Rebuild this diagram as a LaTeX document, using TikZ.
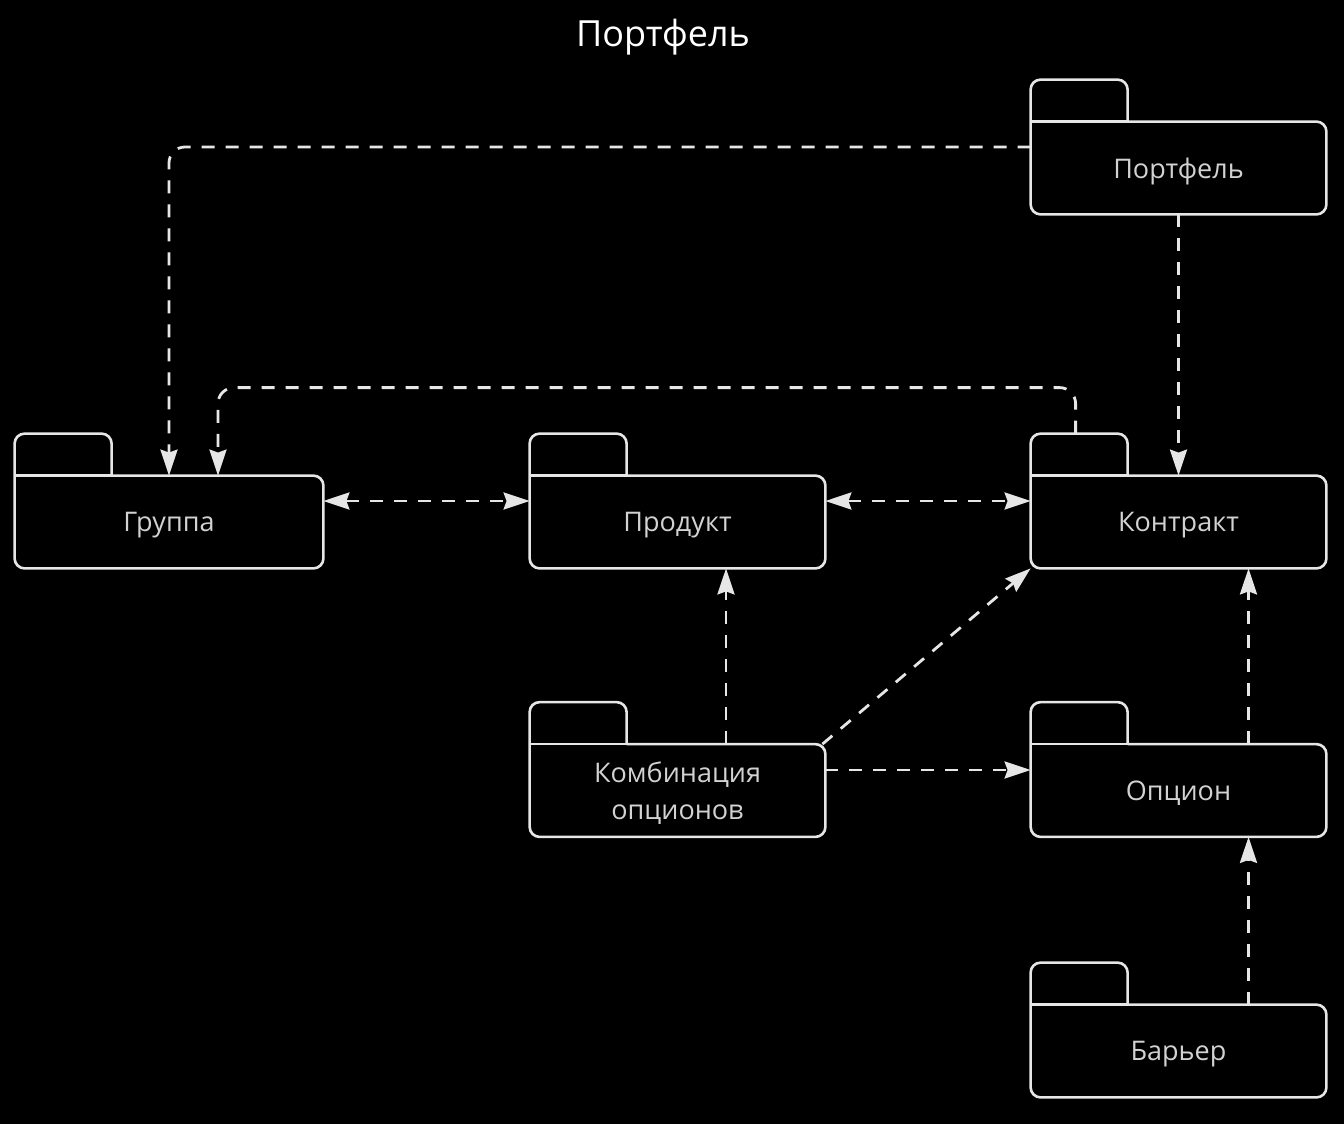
\documentclass[tikz,border=0pt]{standalone}
\usepackage{fontspec}
\setmainfont{Open Sans}
\usetikzlibrary{arrows.meta,calc}

\definecolor{pkgline}{HTML}{E6E6E6}
\definecolor{pkgtext}{HTML}{D2D2D2}

\begin{document}
\begin{tikzpicture}[x=0.5pt, y=-0.5pt,
	pkg/.style={minimum width=147.5pt, minimum height=46pt, inner sep=0pt,
		align=center, text=pkgtext, text depth=0pt, font=\fontsize{13.5}{18.5}\selectfont},
	outline/.style={draw=pkgline, line width=1.3pt, rounded corners=5pt},
	dep/.style={draw=pkgline, line width=1.4pt, dash pattern=on 6.5pt off 5.5pt,
		-{Stealth[length=13pt, width=8.5pt, inset=1.5pt]}},
	both/.style={dep, {Stealth[length=13pt, width=8.5pt, inset=1.5pt]}-{Stealth[length=13pt, width=8.5pt, inset=1.5pt]}}]
\def \tabw {97}  % tab width in px
\def \tabh {42}  % tab height in px

\fill[black] (0,0) rectangle (1344,1124);
\node[text=white, font=\fontsize{18}{22}\selectfont] (title) at (663,37) {Портфель};

\node[pkg] (port) at (1178.5,168) {Портфель};
\node[pkg, minimum width=154pt] (grp) at (169,522) {Группа};
\node[pkg] (prod) at (677.5,522) {Продукт};
\node[pkg] (contr) at (1178.5,522) {Контракт};
\node[pkg] (comb) at (677.5,790.5) {Комбинация\\опционов};
\node[pkg] (opt) at (1178.5,790.5) {Опцион};
\node[pkg] (bar) at (1178.5,1051) {Барьер};

\foreach \n in {port,grp,prod,contr,comb,opt,bar}
{
	\draw[outline] ($(\n.north west)+(\tabw,0)$) -- (\n.north east) -- (\n.south east)
		-- (\n.south west) -- ($(\n.north west)+(0,-\tabh)$)
		-- ($(\n.north west)+(\tabw,-\tabh)$) -- ($(\n.north west)+(\tabw,0)$);
	\draw[outline] (\n.north west) -- ++(\tabw,0);
}

\draw[dep, rounded corners=8pt] ([yshift=10.5pt]port.west) -| (grp.north);
\draw[dep] (port.south) -- (contr.north);
\draw[dep, rounded corners=8pt] ([xshift=22.5pt, yshift=21pt]contr.north west)
	-- ++(0,-46) -| ([xshift=24.5pt]grp.north);
\draw[both] ([yshift=10.5pt]grp.east) -- ([yshift=10.5pt]prod.west);
\draw[both] ([yshift=10.5pt]prod.east) -- ([yshift=10.5pt]contr.west);
\draw[dep] ([xshift=24.25pt]comb.north) -- ([xshift=24.25pt]prod.south);
\draw[dep] ([xshift=-1.5pt]comb.north east) -- (contr.south west);
\draw[dep] ([yshift=10.25pt]comb.east) -- ([yshift=10.25pt]opt.west);
\draw[dep] ([xshift=35pt]opt.north) -- ([xshift=35pt]contr.south);
\draw[dep] ([xshift=35pt]bar.north) -- ([xshift=35pt]opt.south);
\end{tikzpicture}
\end{document}
